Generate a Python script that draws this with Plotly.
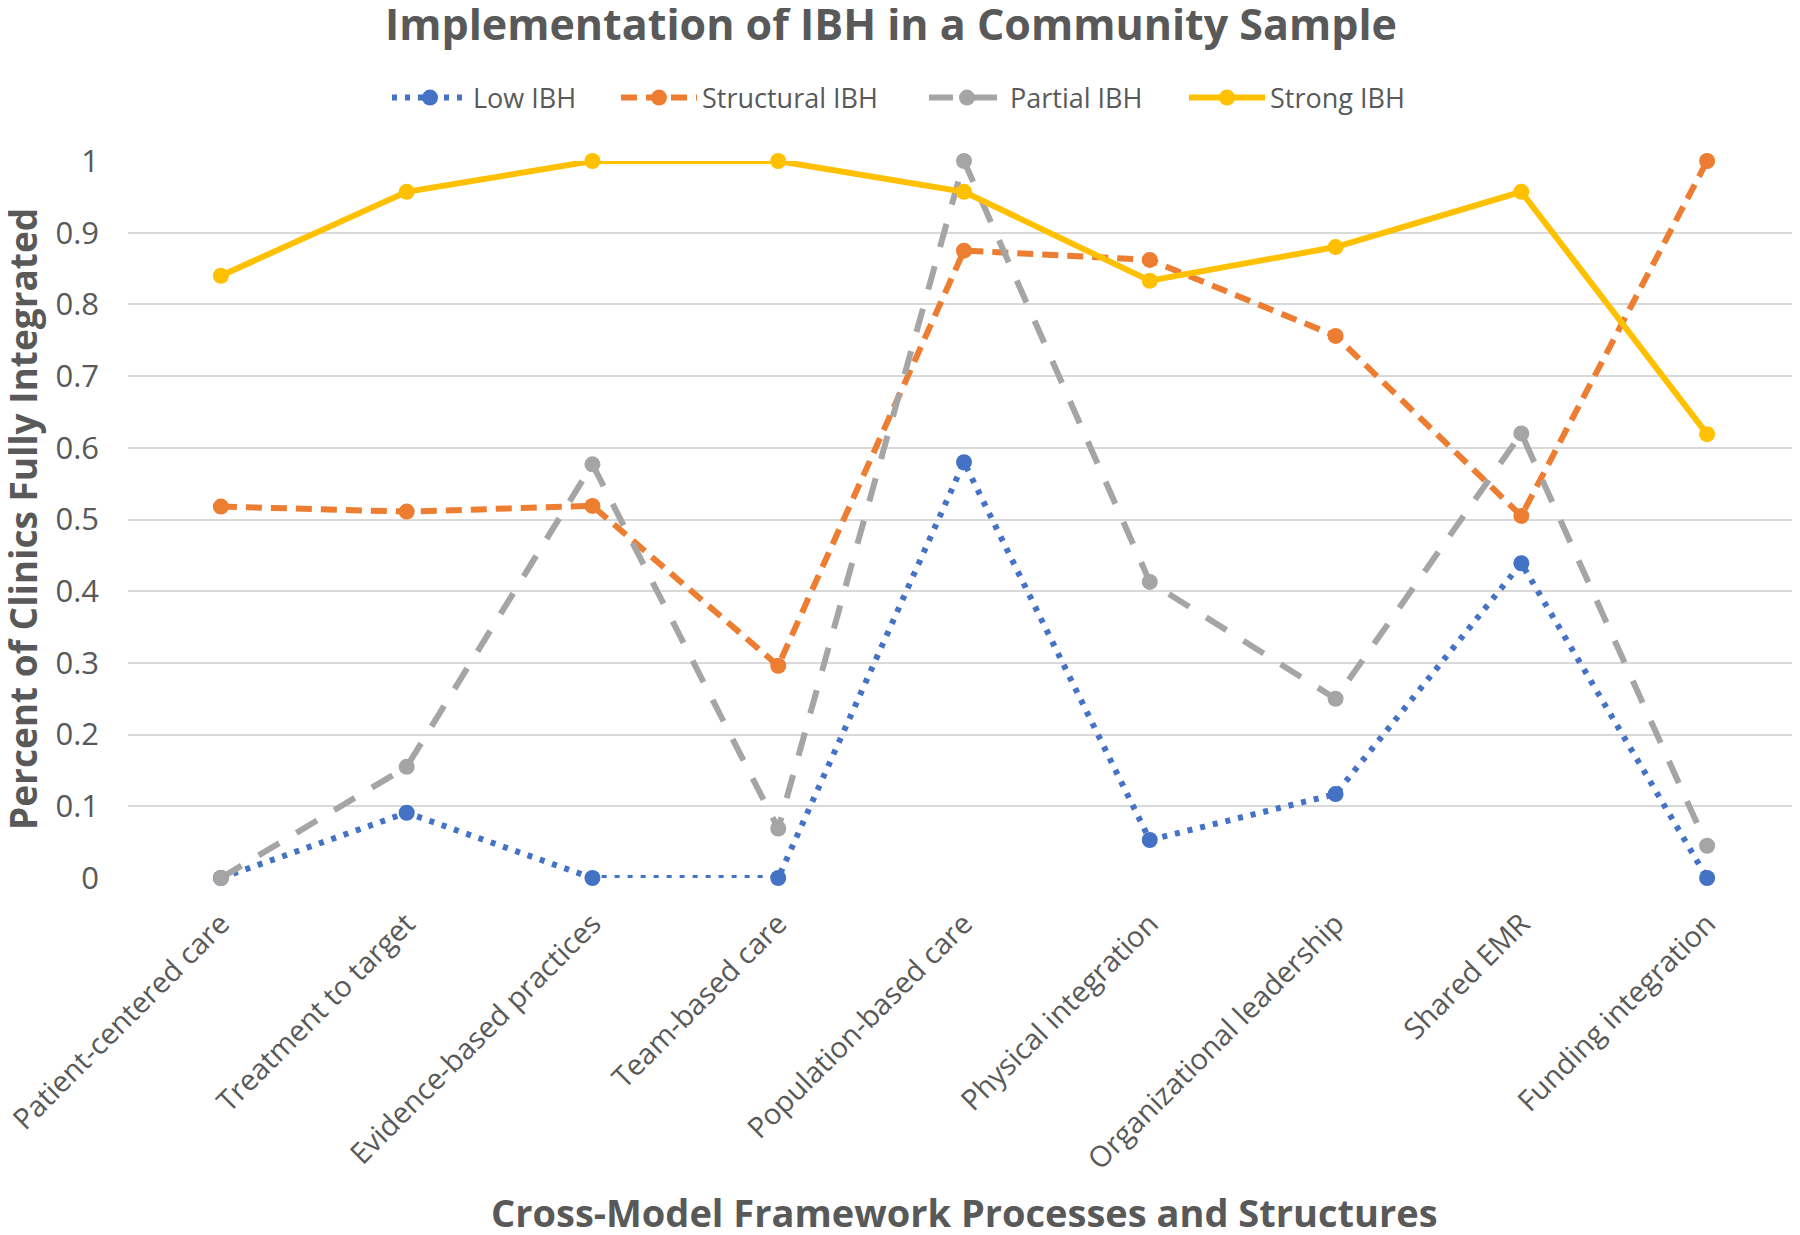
import plotly.graph_objects as go

categories = ["Patient-centered care", "Treatment to target", "Evidence-based practices",
              "Team-based care", "Population-based care", "Physical integration",
              "Organizational leadership", "Shared EMR", "Funding integration"]

low_ibh = [0.0, 0.091, 0.0, 0.0, 0.580, 0.053, 0.117, 0.439, 0.0]
structural_ibh = [0.518, 0.511, 0.519, 0.296, 0.875, 0.862, 0.756, 0.505, 1.0]
partial_ibh = [0.0, 0.155, 0.577, 0.069, 1.0, 0.413, 0.250, 0.620, 0.045]
strong_ibh = [0.840, 0.957, 1.0, 1.0, 0.957, 0.833, 0.880, 0.957, 0.619]

y_tick_vals = [0, 0.1, 0.2, 0.3, 0.4, 0.5, 0.6, 0.7, 0.8, 0.9, 1.0]
y_tick_text = ["0", "0.1", "0.2", "0.3", "0.4", "0.5", "0.6", "0.7", "0.8", "0.9", "1"]

TEXT = "#595959"
FONT = "Open Sans"

# figure is placed at (8, 8) by the page's body margin
W, H = 1792, 1227
L, R, T, B = 120, 0, 153, 357
PW = W - L - R
PH = H - T - B

def px_x(p):  # page pixel x -> paper
    return (p - 8 - L) / PW

def px_y(p):  # page pixel y -> paper
    return 1 - (p - 8 - T) / PH

series = [
    ("Low IBH", low_ibh, "#4472C4", "5px,8px", "legend", 387),
    ("Structural IBH", structural_ibh, "#ED7D31", "16px,9px", "legend2", 616),
    ("Partial IBH", partial_ibh, "#A5A5A5", "24px,20px", "legend3", 924),
    ("Strong IBH", strong_ibh, "#FFC000", "solid", "legend4", 1184),
]

fig = go.Figure()
legend_layouts = {}
for name, vals, color, dash, leg, lx in series:
    fig.add_trace(go.Scatter(
        x=list(range(len(categories))), y=vals, name=name, mode="lines+markers",
        line=dict(color=color, width=6, dash=dash),
        marker=dict(color=color, size=16, symbol="circle"),
        cliponaxis=False, legend=leg,
    ))
    legend_layouts[leg] = dict(
        orientation="h", xref="container", x=(lx - 8) / W, xanchor="left",
        yref="container", y=1 - (98 - 8) / H, yanchor="middle",
        font=dict(size=27, color=TEXT, family=FONT),
        itemwidth=76, bgcolor="rgba(0,0,0,0)",
    )

fig.update_layout(
    width=W, height=H,
    paper_bgcolor="white", plot_bgcolor="white",
    margin=dict(l=L, r=R, t=T, b=B, autoexpand=False),
    font=dict(family=FONT, color=TEXT),
    title=dict(text="<b>Implementation of IBH in a Community Sample</b>",
               x=(891 - 8) / W, xref="container", xanchor="center",
               y=1 - (25 - 8) / H, yref="container", yanchor="middle",
               font=dict(size=43, color=TEXT, family=FONT)),
    showlegend=True,
    **legend_layouts,
)

fig.update_xaxes(
    range=[-0.5, len(categories) - 0.5],
    tickvals=list(range(len(categories))), ticktext=categories,
    tickangle=-45, tickfont=dict(size=29, color=TEXT, family=FONT),
    showgrid=False, zeroline=False, showline=False, ticks="",
    ticklabelstandoff=22, ticklabeloverflow="allow", automargin=False,
)
fig.update_yaxes(
    range=[0, 1], tickvals=y_tick_vals, ticktext=y_tick_text,
    tickfont=dict(size=31, color=TEXT, family=FONT),
    showgrid=True, gridcolor="#D9D9D9", gridwidth=2,
    zeroline=False, showline=False, ticks="", ticklabelstandoff=28,
    automargin=False,
)

fig.add_annotation(text="<b>Percent of Clinics Fully Integrated</b>", textangle=-90,
                   xref="paper", yref="paper", x=px_x(22), y=px_y(519),
                   xanchor="center", yanchor="middle", showarrow=False,
                   font=dict(size=37, color=TEXT, family=FONT))
fig.add_annotation(text="<b>Cross-Model Framework Processes and Structures</b>",
                   xref="paper", yref="paper", x=px_x(964), y=px_y(1212),
                   xanchor="center", yanchor="middle", showarrow=False,
                   font=dict(size=38, color=TEXT, family=FONT))

fig.write_html("out.html")
